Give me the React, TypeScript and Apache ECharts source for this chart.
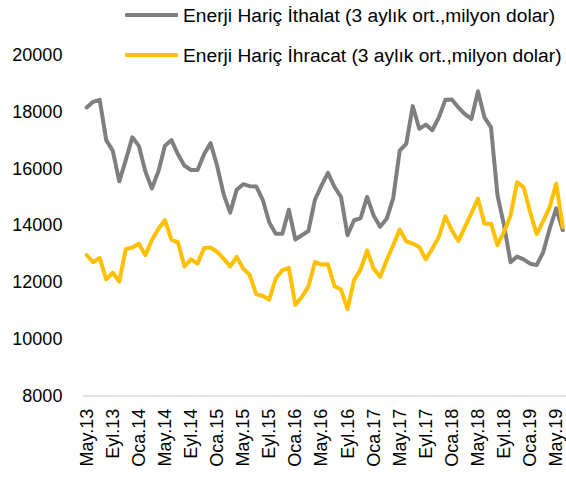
import React, { useEffect, useRef } from "react";
import * as echarts from "echarts";

const monthNames = ["Oca", "Şub", "Mar", "Nis", "May", "Haz", "Tem", "Ağu", "Eyl", "Eki", "Kas", "Ara"];
const categories: string[] = [];
for (let i = 0; i < 74; i++) {
  const m = (4 + i) % 12;
  const y = 13 + Math.floor((4 + i) / 12);
  categories.push(`${monthNames[m]}.${y}`);
}

const importsName = "Enerji Hariç İthalat (3 aylık ort.,milyon dolar)";
const exportsName = "Enerji Hariç İhracat (3 aylık ort.,milyon dolar)";

const importsExEnergy = [
  18150, 18350, 18420, 17000, 16630, 15550, 16300, 17100, 16800, 15900,
  15300, 15900, 16800, 17000, 16500, 16100, 15950, 15950, 16500, 16900,
  16100, 15100, 14450, 15250, 15450, 15380, 15370, 14900, 14100, 13700,
  13700, 14550, 13500, 13650, 13800, 14900, 15400, 15850, 15350, 15000,
  13650, 14180, 14250, 15000, 14350, 13950, 14230, 14950, 16630, 16870,
  18200, 17400, 17550, 17350, 17800, 18420, 18430, 18150, 17920, 17750,
  18720, 17800, 17450, 15050, 14000, 12700, 12900, 12800, 12650, 12600,
  13050, 13880, 14600, 13830,
];

const exportsExEnergy = [
  12950, 12700, 12850, 12100, 12330, 12020, 13160, 13220, 13350, 12950,
  13480, 13880, 14180, 13500, 13400, 12550, 12800, 12650, 13200, 13220,
  13070, 12830, 12550, 12890, 12480, 12250, 11570, 11520, 11380, 12130,
  12420, 12500, 11200, 11480, 11840, 12710, 12620, 12630, 11860, 11740,
  11050, 12070, 12450, 13120, 12480, 12190, 12770, 13300, 13850, 13440,
  13360, 13240, 12800, 13180, 13590, 14320, 13820, 13450, 13940, 14430,
  14940, 14060, 14060, 13300, 13770, 14350, 15520, 15340, 14470, 13690,
  14150, 14640, 15470, 13940,
];

const yMin = 8000;
const yMax = 20000;
const yInterval = 2000;

const FONT = "Liberation Sans";

export default function App() {
  const ref = useRef<HTMLDivElement>(null);
  useEffect(() => {
    if (!ref.current) return;
    const chart = echarts.init(ref.current, undefined, { renderer: "svg" });
    chart.setOption({
      animation: false,
      backgroundColor: "#ffffff",
      textStyle: { fontFamily: FONT },
      legend: {
        orient: "vertical",
        left: 120,
        top: 0,
        itemWidth: 53,
        itemHeight: 4,
        itemGap: 20,
        icon: "roundRect",
        data: [
          { name: importsName, itemStyle: { color: "#7f7f7f" } },
          { name: exportsName, itemStyle: { color: "#ffc000" } },
        ],
        textStyle: { fontFamily: FONT, fontSize: 19.2, color: "#000", lineHeight: 20 },
      },
      grid: { left: 83.4, top: 55, width: 483.8, height: 340.7, containLabel: false },
      xAxis: {
        type: "category",
        data: categories,
        boundaryGap: true,
        axisLine: { show: true, lineStyle: { color: "#d9d9d9", width: 1.5 } },
        axisTick: { show: false },
        axisLabel: {
          interval: 3,
          rotate: 90,
          margin: 13,
          fontFamily: FONT,
          fontSize: 18,
          color: "#000",
        },
        splitLine: { show: false },
      },
      yAxis: {
        type: "value",
        min: yMin,
        max: yMax,
        interval: yInterval,
        axisLine: { show: false },
        axisTick: { show: false },
        splitLine: { show: false },
        axisLabel: {
          margin: 21,
          fontFamily: FONT,
          fontSize: 18,
          color: "#000",
          formatter: (v: number) => String(v),
        },
      },
      series: [
        {
          name: importsName,
          type: "line",
          data: importsExEnergy,
          showSymbol: false,
          symbol: "none",
          lineStyle: { color: "#7f7f7f", width: 4, join: "round", cap: "round" },
          itemStyle: { color: "#7f7f7f" },
        },
        {
          name: exportsName,
          type: "line",
          data: exportsExEnergy,
          showSymbol: false,
          symbol: "none",
          lineStyle: { color: "#ffc000", width: 4, join: "round", cap: "round" },
          itemStyle: { color: "#ffc000" },
        },
      ],
    });
    return () => chart.dispose();
  }, []);
  return (
    <div
      ref={ref}
      style={{ position: "absolute", left: 0, top: 0, width: 566, height: 477 }}
    />
  );
}
